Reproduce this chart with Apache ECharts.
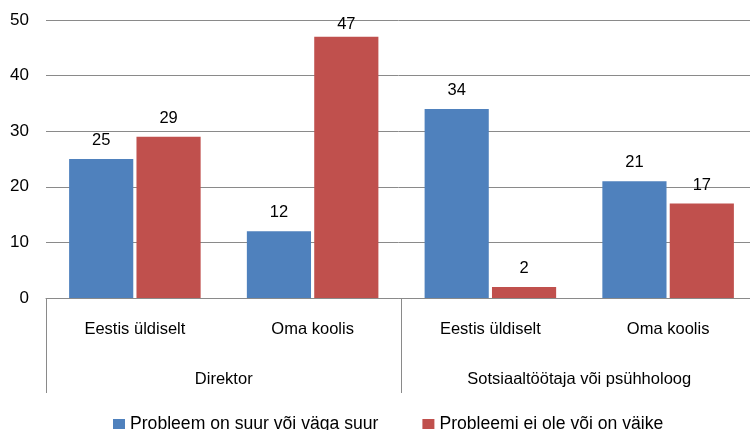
<!DOCTYPE html>
<html><head><meta charset="utf-8">
<script src="https://cdn.jsdelivr.net/npm/echarts@6/dist/echarts.min.js"></script>
<style>html,body{margin:0;padding:0;background:#fff}#c{width:750px;height:430px}</style>
</head><body><div id="c"></div>
<script>
const categories = ['Eestis üldiselt', 'Oma koolis', 'Eestis üldiselt', 'Oma koolis'];
const groups = ['Direktor', 'Sotsiaaltöötaja või psühholoog'];
const seriesNames = ['Probleem on suur või väga suur', 'Probleemi ei ole või on väike'];
const bigProblem = [25, 12, 34, 21];
const smallProblem = [29, 47, 2, 17];
const yTicks = [0, 10, 20, 30, 40, 50];

const FONT = 'Liberation Sans';
const FS = 16.5;
// labels near the top of the plot are nudged down (as in the source chart)
const withLabelFit = arr => arr.map(v => v > 45 ? {value: v, label: {distance: 4}} : v);
const chart = echarts.init(document.getElementById('c'), null, {renderer: 'canvas'});
chart.setOption({
  animation: false,
  textStyle: {fontFamily: FONT},
  grid: {left: 46, width: 711, top: 20, bottom: 132, containLabel: false, outerBoundsMode: 'none'},
  legend: {
    top: 415, left: 113, padding: 0, itemWidth: 12, itemHeight: 10, itemGap: 44, icon: 'rect',
    textStyle: {fontSize: 17.6, color: '#000', fontFamily: FONT},
    data: seriesNames
  },
  xAxis: [{
    type: 'category', data: categories, position: 'bottom',
    axisLine: {show: true, lineStyle: {color: '#8a8a8a', width: 1}},
    axisTick: {show: false},
    axisLabel: {color: '#000', fontSize: FS, margin: 23, interval: 0}
  }, {
    type: 'category', data: groups, position: 'bottom',
    axisLine: {show: false},
    axisTick: {show: true, length: 95, lineStyle: {color: '#8a8a8a'}},
    axisLabel: {color: '#000', fontSize: FS, margin: 73, interval: 0}
  }],
  yAxis: {
    type: 'value', min: yTicks[0], max: yTicks[yTicks.length - 1], interval: 10,
    axisLine: {show: false}, axisTick: {show: false},
    axisLabel: {color: '#000', fontSize: 17, margin: 17},
    splitLine: {lineStyle: {color: '#8a8a8a', width: 1}}
  },
  series: [{
    name: seriesNames[0], type: 'bar', data: withLabelFit(bigProblem), xAxisIndex: 0,
    barGap: '5%', barCategoryGap: '26%',
    itemStyle: {color: '#4f81bd'},
    label: {show: true, position: 'top', distance: 10, color: '#000', fontSize: FS, fontFamily: FONT}
  }, {
    name: seriesNames[1], type: 'bar', data: withLabelFit(smallProblem), xAxisIndex: 0,
    itemStyle: {color: '#c0504d'},
    label: {show: true, position: 'top', distance: 10, color: '#000', fontSize: FS, fontFamily: FONT}
  }]
});
</script></body></html>
